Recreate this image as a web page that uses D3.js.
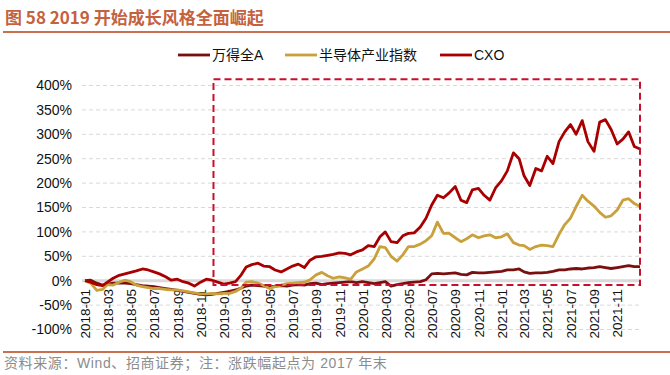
<!DOCTYPE html>
<html>
<head>
<meta charset="utf-8">
<script src="https://cdn.jsdelivr.net/npm/d3@7"></script>
<style>
  body { margin: 0; background: #fff; }
  svg { display: block; font-family: "Liberation Sans", Arial, "Noto Sans CJK SC", sans-serif; }
</style>
</head>
<body>
<svg></svg>
<script>
let width = 670;
let height = 375;

// semi-monthly sampling (1st and 16th of each month), cumulative change in % since end of 2017
let sampleDates = [];
for (let y = 2018; y <= 2021; y++) {
  for (let m = 0; m < 12; m++) {
    sampleDates.push(new Date(y, m, 1));
    sampleDates.push(new Date(y, m, 16));
  }
}
sampleDates.push(new Date(2021, 11, 31));

const seriesNames = ["万得全A", "半导体产业指数", "CXO"];

const windA = [0, 1, -5, -9, -7, -5, -5, -5, -6, -8, -10, -11, -12, -14, -16, -18, -20, -22, -24, -26,
  -28, -29, -28, -26, -24, -22, -19, -15, -11, -9, -10, -11, -13, -11, -10, -11, -9, -8, -9, -6,
  -5, -8, -6, -5, -4, -3, -2, -4, -2, -4, -6, -4, -2, -11, -8, -6, -4, -3, -2, 2,
  14, 15, 14, 15, 16, 13, 12, 17, 16, 16, 17, 18, 19, 22, 22, 24, 18, 15, 16, 16,
  17, 19, 22, 22, 24, 25, 24, 26, 27, 29, 27, 25, 27, 29, 31, 29, 29];

const semi = [0, -5, -20, -18, -8, -9, -3, 1, -2, -9, -12, -14, -16, -16, -18, -19, -19, -21, -23, -25,
  -27, -27, -26, -27, -26, -26, -22, -15, -3, -2, -5, -10, -16, -12, -9, -6, -5, -4, -3, 2,
  12, 17, 10, 5, 8, 6, 3, 18, 24, 30, 45, 70, 68, 50, 40, 53, 70, 70, 75, 82,
  92, 120, 97, 97, 88, 80, 86, 94, 88, 92, 94, 88, 90, 96, 78, 73, 72, 64, 70, 73,
  72, 70, 95, 115, 128, 152, 175, 163, 153, 140, 130, 133, 145, 165, 168, 158, 152];

const cxo = [0, -3, -8, -10, -3, 5, 11, 14, 17, 20, 24, 22, 18, 14, 8, 1, 3, -2, -5, -11,
  -3, 3, 1, -3, -7, -5, -2, 12, 28, 33, 36, 30, 29, 22, 18, 24, 30, 34, 27, 42,
  49, 50, 52, 54, 57, 56, 53, 59, 63, 72, 70, 90, 100, 80, 78, 92, 97, 98, 110, 128,
  155, 175, 170, 180, 193, 165, 160, 186, 189, 175, 165, 190, 205, 225, 262, 250, 215, 195, 230, 225,
  255, 240, 285, 305, 320, 300, 328, 285, 265, 325, 330, 310, 280, 290, 305, 275, 270];

const seriesValues = [windA, semi, cxo];
const seriesColors = ["#7a0f10", "#c9a03a", "#a80000"];

const yTicks = [-100, -50, 0, 50, 100, 150, 200, 250, 300, 350, 400];

// dashed frame around 2019 onwards
const frameFrom = new Date(2018, 11, 5);
const frameTo = new Date(2021, 11, 31);
const frameLow = -9;
const frameHigh = 413;

const titleText = "图 58 2019 开始成长风格全面崛起";
const sourceText = "资料来源：Wind、招商证券；注：涨跌幅起点为 2017 年末";

let svg = d3.select("svg")
  .attr("width", width)
  .attr("height", height);

// title + rule
svg.append("text")
  .attr("x", 5)
  .attr("y", 24)
  .attr("fill", "#c4623f")
  .attr("font-size", 17)
  .attr("font-weight", "bold")
  .attr("font-family", "'Noto Sans CJK SC', 'Liberation Sans', sans-serif")
  .text(titleText);

svg.append("line")
  .attr("x1", 3).attr("x2", 670)
  .attr("y1", 32).attr("y2", 32)
  .attr("stroke", "#c8704f")
  .attr("stroke-width", 2);

let xScale = d3.scaleTime()
  .domain([new Date(2018, 0, 1), new Date(2021, 11, 31)])
  .range([85, 640]);

let yScale = d3.scaleLinear()
  .domain([-100, 400])
  .range([329.5, 85.5]);

// grid
svg.append("g")
  .selectAll("line")
  .data(yTicks.filter(d => d != 0))
  .enter()
  .append("line")
  .attr("x1", 82).attr("x2", 641)
  .attr("y1", d => yScale(d)).attr("y2", d => yScale(d))
  .attr("stroke", "#d9d9d9")
  .attr("stroke-width", 1)
  .attr("stroke-dasharray", "4,3");

svg.append("line")
  .attr("x1", 82).attr("x2", 641)
  .attr("y1", yScale(0)).attr("y2", yScale(0))
  .attr("stroke", "#d9d9d9")
  .attr("stroke-width", 3);

// y axis labels
let yAxis = d3.axisLeft(yScale)
  .tickValues(yTicks)
  .tickSize(0)
  .tickPadding(0)
  .tickFormat(d => d + "%");

svg.append("g")
  .attr("transform", "translate(72,0)")
  .call(yAxis)
  .call(g => g.select(".domain").remove())
  .selectAll("text")
  .attr("font-size", 14)
  .attr("fill", "#111")
  .attr("font-family", "'Liberation Sans', Arial, sans-serif");

// x axis labels (rotated)
let xAxis = d3.axisBottom(xScale)
  .ticks(d3.timeMonth.every(2))
  .tickSize(0)
  .tickFormat(d3.timeFormat("%Y-%m"));

svg.append("g")
  .attr("transform", "translate(0,289)")
  .call(xAxis)
  .call(g => g.select(".domain").remove())
  .selectAll("text")
  .attr("font-size", 13.5)
  .attr("fill", "#111")
  .attr("font-family", "'Liberation Sans', Arial, sans-serif")
  .attr("text-anchor", "end")
  .attr("dy", "0.35em")
  .attr("y", 0)
  .attr("x", 0)
  .attr("transform", "rotate(-90)");

// lines
let line = d3.line()
  .x((d, i) => xScale(sampleDates[i]))
  .y(d => yScale(d));

svg.append("g")
  .selectAll("path")
  .data(seriesValues)
  .enter()
  .append("path")
  .attr("d", d => line(d))
  .attr("fill", "none")
  .attr("stroke", (d, i) => seriesColors[i])
  .attr("stroke-width", 2.8)
  .attr("stroke-linejoin", "round");

// dashed frame
svg.append("rect")
  .attr("x", xScale(frameFrom))
  .attr("y", yScale(frameHigh))
  .attr("width", xScale(frameTo) - xScale(frameFrom))
  .attr("height", yScale(frameLow) - yScale(frameHigh))
  .attr("fill", "none")
  .attr("stroke", "#c8102e")
  .attr("stroke-width", 2)
  .attr("stroke-dasharray", "7,4");

// legend
let legendX = [178, 285, 440];
let legend = svg.append("g")
  .selectAll("g")
  .data(seriesNames)
  .enter()
  .append("g")
  .attr("transform", (d, i) => "translate(" + legendX[i] + ",55)");

legend.append("line")
  .attr("x1", 0).attr("x2", 32)
  .attr("y1", 0).attr("y2", 0)
  .attr("stroke", (d, i) => seriesColors[i])
  .attr("stroke-width", 2.8);

legend.append("text")
  .attr("x", 34)
  .attr("y", 5)
  .attr("font-size", 14)
  .attr("fill", "#111")
  .text(d => d);

// footer
svg.append("line")
  .attr("x1", 3).attr("x2", 670)
  .attr("y1", 352).attr("y2", 352)
  .attr("stroke", "#c8704f")
  .attr("stroke-width", 2);

svg.append("text")
  .attr("x", 4)
  .attr("y", 368)
  .attr("font-size", 14)
  .attr("letter-spacing", 0.6)
  .attr("fill", "#8c8c8c")
  .text(sourceText);
</script>
</body>
</html>
